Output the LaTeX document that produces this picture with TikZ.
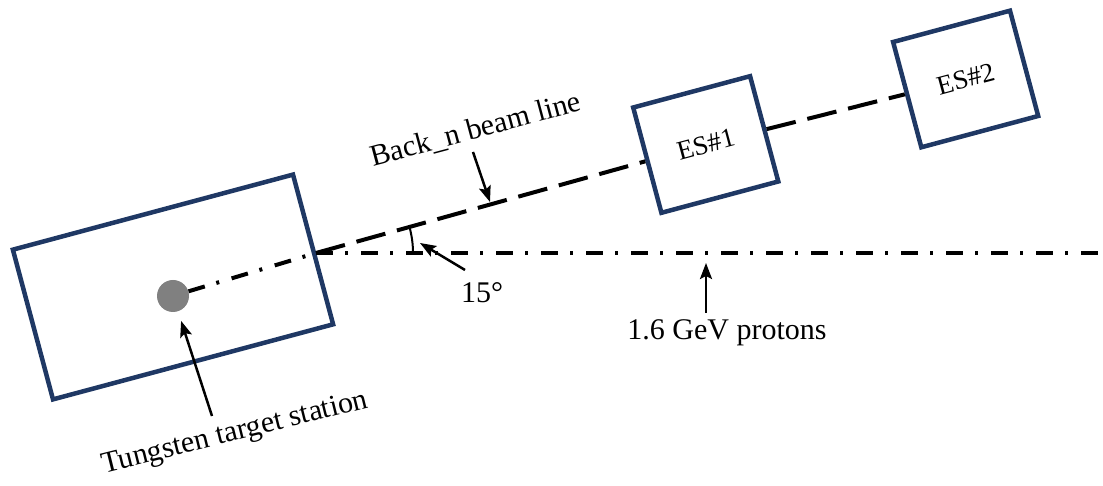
\documentclass[tikz,border=0pt]{standalone}
\usepackage{fontspec}
\setmainfont{Liberation Serif}
\usepackage{tikz}
\usetikzlibrary{arrows.meta}
\usetikzlibrary{positioning}
\definecolor{stationblue}{RGB}{31,56,100}
\definecolor{dotgray}{RGB}{128,128,128}
\tikzset{
    station/.style={
           rectangle,
           draw=stationblue, line width=4.5pt,
           inner sep=0pt,
           text centered,
           font=\fontsize{27}{32}\selectfont,
           },
    annot/.style={
           inner sep=2pt,
           font=\fontsize{30}{36}\selectfont,
           },
    pointer/.style={-{Stealth[length=16pt,width=12pt,inset=3pt]}, line width=2.5pt},
    beamline/.style={line width=4pt, dash pattern=on 30pt off 12pt},
    protonline/.style={line width=4pt, dash pattern=on 17pt off 12pt on 3pt off 13pt},
}

\begin{document}
\begin{tikzpicture}[x=1pt,y=1pt]
      \useasboundingbox (0,0) rectangle (1103,486);

      % TARGET STATION
      % rotated box with the tungsten target inside
      \node[station,
          minimum width=290pt,
          minimum height=155pt,
          rotate=15] (TARGET) at (173,199) {};
      \node[circle,
          fill=dotgray,
          minimum size=32pt,
          inner sep=0pt] (TARGET_DOT) at (173,190) {};

      % where the beam line leaves the proton line
      \coordinate (VERTEX) at (316,233);
      \coordinate (PROTON_END) at (1103,233);

      % EXPERIMENTAL STATION 1
      \node[station,
          minimum width=121pt,
          minimum height=109pt,
          rotate=15,
          anchor=center] (ES1) at (705.75,341.5) {ES\#1};

      % EXPERIMENTAL STATION 2
      % (shift is turned with the box, so distance runs along the beam)
      \node[station,
          minimum width=121pt,
          minimum height=109pt,
          rotate=15,
          right of=ES1,
          node distance=268pt,
          yshift=-4pt,
          anchor=center] (ES2) {ES\#2};

      % labels
      \node[annot, rotate=15] (BACKN_LABEL) at (476,356) {Back\_n beam line};
      \node[annot] (ANGLE_LABEL) at (482,193) {15°};
      \node[annot] (PROTON_LABEL) at (727,153) {1.6 GeV protons};
      \node[annot, rotate=14] (TUNGSTEN_LABEL) at (235,52) {Tungsten target station};

      % arrow ends
      \coordinate (BACKN_TAIL) at (473,334);
      \coordinate (BACKN_TIP) at (490,284);
      \coordinate (ANGLE_TAIL) at (465,216);
      \coordinate (ANGLE_TIP) at (420,243);
      \coordinate (PROTON_TIP) at (706,223);
      \coordinate (TUNGSTEN_TAIL) at (212,70);

      % beam lines
      \draw[protonline] (TARGET_DOT) -- (VERTEX);
      \draw[protonline] (VERTEX) -- (PROTON_END);
      \draw[beamline] (VERTEX) -- (ES1);
      \draw[beamline] (ES1) -- (ES2);

      % 15 degree mark
      \draw[line width=2pt] ([shift={(0:97)}]VERTEX) arc[start angle=0, end angle=15, radius=97];

      % pointers
      \draw[pointer] (BACKN_TAIL) -- (BACKN_TIP);
      \draw[pointer] (ANGLE_TAIL) -- (ANGLE_TIP);
      \draw[pointer, shorten <=5pt] (PROTON_TIP |- PROTON_LABEL.north) -- (PROTON_TIP);
      \draw[pointer, shorten >=10pt] (TUNGSTEN_TAIL) -- (TARGET_DOT);

\end{tikzpicture}
\end{document}
